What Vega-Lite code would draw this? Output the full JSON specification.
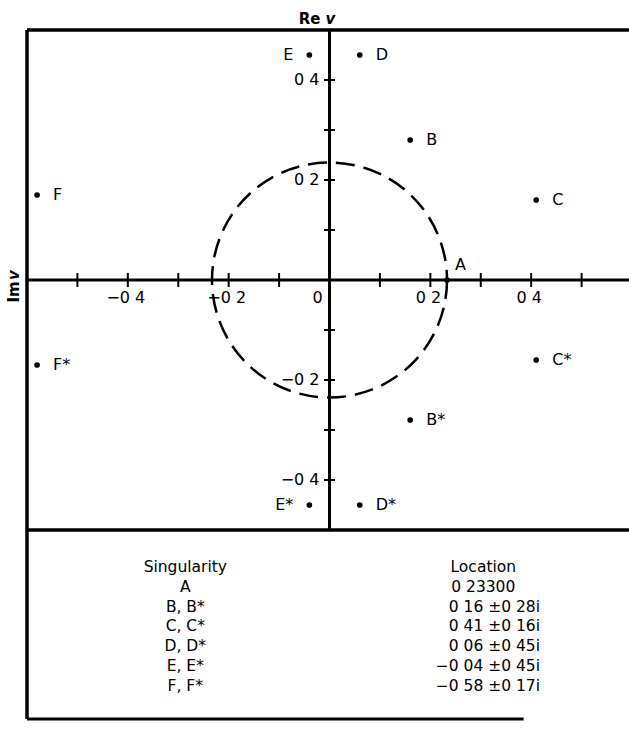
{
  "$schema": "https://vega.github.io/schema/vega-lite/v6.json",
  "width": 602,
  "height": 689,
  "autosize": {"type": "none"},
  "padding": {"left": 27, "top": 30, "right": 0, "bottom": 10},
  "background": "white",
  "config": {
    "view": {"stroke": null},
    "axis": {"disable": true},
    "text": {"font": "DejaVu Sans", "fontSize": 16, "color": "black"}
  },
  "datasets": {
    "singularities": [
      {"label": "A", "re": 0.233, "im": 0},
      {"label": "B", "re": 0.16, "im": 0.28},
      {"label": "B*", "re": 0.16, "im": -0.28},
      {"label": "C", "re": 0.41, "im": 0.16},
      {"label": "C*", "re": 0.41, "im": -0.16},
      {"label": "D", "re": 0.06, "im": 0.45},
      {"label": "D*", "re": 0.06, "im": -0.45},
      {"label": "E", "re": -0.04, "im": 0.45},
      {"label": "E*", "re": -0.04, "im": -0.45},
      {"label": "F", "re": -0.58, "im": 0.17},
      {"label": "F*", "re": -0.58, "im": -0.17}
    ],
    "hticks": [
      {"v": -0.5}, {"v": -0.4}, {"v": -0.3}, {"v": -0.2}, {"v": -0.1},
      {"v": 0.1}, {"v": 0.2}, {"v": 0.3}, {"v": 0.4}, {"v": 0.5}
    ],
    "vticks": [
      {"v": -0.4}, {"v": -0.3}, {"v": -0.2}, {"v": -0.1},
      {"v": 0.1}, {"v": 0.2}, {"v": 0.3}, {"v": 0.4}
    ],
    "hlabels": [
      {"v": -0.4, "t": "−0 4"}, {"v": -0.2, "t": "−0 2"},
      {"v": 0.2, "t": "0 2"}, {"v": 0.4, "t": "0 4"}
    ],
    "vlabels": [
      {"v": 0.4, "t": "0 4"}, {"v": 0.2, "t": "0 2"},
      {"v": -0.2, "t": "−0 2"}, {"v": -0.4, "t": "−0 4"}
    ],
    "table": [
      {"row": 0, "sing": "Singularity", "loc": "Location"},
      {"row": 1, "sing": "A", "loc": "0 23300"},
      {"row": 2, "sing": "B, B*", "loc": "0 16 ±0 28i"},
      {"row": 3, "sing": "C, C*", "loc": "0 41 ±0 16i"},
      {"row": 4, "sing": "D, D*", "loc": "0 06 ±0 45i"},
      {"row": 5, "sing": "E, E*", "loc": "−0 04 ±0 45i"},
      {"row": 6, "sing": "F, F*", "loc": "−0 58 ±0 17i"}
    ]
  },
  "resolve": {"scale": {"y": "independent"}},
  "layer": [
    {
      "layer": [
        {
          "data": {"values": [{}]},
          "mark": {"type": "rule", "color": "black", "strokeWidth": 3.5},
          "encoding": {
            "x": {"datum": -0.6, "type": "quantitative", "scale": {"domain": [-0.6, 0.594], "nice": false, "zero": false}},
            "x2": {"datum": 0.594},
            "y": {"datum": 0.5, "type": "quantitative", "scale": {"domain": [-0.878, 0.5], "nice": false, "zero": false}}
          }
        },
        {
          "data": {"values": [{}]},
          "mark": {"type": "rule", "color": "black", "strokeWidth": 3.5},
          "encoding": {
            "x": {"datum": -0.6, "type": "quantitative"},
            "y": {"datum": 0.5, "type": "quantitative"},
            "y2": {"datum": -0.878}
          }
        },
        {
          "data": {"values": [{}]},
          "mark": {"type": "rule", "color": "black", "strokeWidth": 3.5},
          "encoding": {
            "x": {"datum": -0.6, "type": "quantitative"},
            "x2": {"datum": 0.594},
            "y": {"datum": -0.5, "type": "quantitative"}
          }
        },
        {
          "data": {"values": [{}]},
          "mark": {"type": "rule", "color": "black", "strokeWidth": 3},
          "encoding": {
            "x": {"datum": -0.6, "type": "quantitative"},
            "x2": {"datum": 0.385},
            "y": {"datum": -0.878, "type": "quantitative"}
          }
        },
        {
          "data": {"values": [{}]},
          "mark": {"type": "rule", "color": "black", "strokeWidth": 3},
          "encoding": {
            "x": {"datum": -0.6, "type": "quantitative"},
            "x2": {"datum": 0.594},
            "y": {"datum": 0, "type": "quantitative"}
          }
        },
        {
          "data": {"values": [{}]},
          "mark": {"type": "rule", "color": "black", "strokeWidth": 3},
          "encoding": {
            "x": {"datum": 0, "type": "quantitative"},
            "y": {"datum": 0.5, "type": "quantitative"},
            "y2": {"datum": -0.5}
          }
        },
        {
          "data": {"name": "hticks"},
          "mark": {"type": "tick", "orient": "vertical", "color": "black", "size": 14, "thickness": 2, "opacity": 1},
          "encoding": {
            "x": {"field": "v", "type": "quantitative"},
            "y": {"datum": 0, "type": "quantitative"}
          }
        },
        {
          "data": {"name": "vticks"},
          "mark": {"type": "tick", "orient": "horizontal", "color": "black", "size": 11, "thickness": 2, "opacity": 1},
          "encoding": {
            "x": {"datum": 0, "type": "quantitative"},
            "y": {"field": "v", "type": "quantitative"}
          }
        },
        {
          "data": {"name": "hlabels"},
          "mark": {"type": "text", "align": "center", "baseline": "middle", "dy": 18, "dx": -2},
          "encoding": {
            "x": {"field": "v", "type": "quantitative"},
            "y": {"datum": 0, "type": "quantitative"},
            "text": {"field": "t"}
          }
        },
        {
          "data": {"values": [{}]},
          "mark": {"type": "text", "text": "0", "align": "center", "baseline": "middle", "dx": -12, "dy": 18},
          "encoding": {
            "x": {"datum": 0, "type": "quantitative"},
            "y": {"datum": 0, "type": "quantitative"}
          }
        },
        {
          "data": {"name": "vlabels"},
          "mark": {"type": "text", "align": "right", "baseline": "middle", "dx": -10},
          "encoding": {
            "x": {"datum": 0, "type": "quantitative"},
            "y": {"field": "v", "type": "quantitative"},
            "text": {"field": "t"}
          }
        },
        {
          "data": {"values": [{}]},
          "mark": {"type": "point", "shape": "circle", "filled": false, "size": 55225, "stroke": "black", "strokeWidth": 2.5, "strokeDash": [19, 9], "opacity": 1},
          "encoding": {
            "x": {"datum": 0, "type": "quantitative"},
            "y": {"datum": 0, "type": "quantitative"}
          }
        },
        {
          "data": {"name": "singularities"},
          "mark": {"type": "point", "shape": "circle", "filled": true, "size": 32, "color": "black", "opacity": 1},
          "encoding": {
            "x": {"field": "re", "type": "quantitative"},
            "y": {"field": "im", "type": "quantitative"}
          }
        },
        {
          "data": {"name": "singularities"},
          "transform": [{"filter": "datum.label !== 'A' && datum.label[0] !== 'E'"}],
          "mark": {"type": "text", "align": "left", "baseline": "middle", "dx": 16},
          "encoding": {
            "x": {"field": "re", "type": "quantitative"},
            "y": {"field": "im", "type": "quantitative"},
            "text": {"field": "label"}
          }
        },
        {
          "data": {"name": "singularities"},
          "transform": [{"filter": "datum.label[0] === 'E'"}],
          "mark": {"type": "text", "align": "right", "baseline": "middle", "dx": -16},
          "encoding": {
            "x": {"field": "re", "type": "quantitative"},
            "y": {"field": "im", "type": "quantitative"},
            "text": {"field": "label"}
          }
        },
        {
          "data": {"name": "singularities"},
          "transform": [{"filter": "datum.label === 'A'"}],
          "mark": {"type": "text", "align": "left", "baseline": "middle", "dx": 8, "dy": -15},
          "encoding": {
            "x": {"field": "re", "type": "quantitative"},
            "y": {"field": "im", "type": "quantitative"},
            "text": {"field": "label"}
          }
        },
        {
          "data": {"values": [{}]},
          "mark": {"type": "text", "text": "Re", "fontWeight": "bold", "fontSize": 15, "align": "right", "baseline": "middle", "dx": -9, "dy": -11},
          "encoding": {
            "x": {"datum": 0, "type": "quantitative"},
            "y": {"datum": 0.5, "type": "quantitative"}
          }
        },
        {
          "data": {"values": [{}]},
          "mark": {"type": "text", "text": "v", "fontWeight": "bold", "fontStyle": "italic", "fontSize": 15, "align": "center", "baseline": "middle", "dx": 1, "dy": -11},
          "encoding": {
            "x": {"datum": 0, "type": "quantitative"},
            "y": {"datum": 0.5, "type": "quantitative"}
          }
        },
        {
          "data": {"values": [{}]},
          "mark": {"type": "text", "text": "Im", "angle": 270, "fontWeight": "bold", "fontSize": 15, "align": "center", "baseline": "middle", "dx": -12, "dy": -13},
          "encoding": {
            "x": {"datum": -0.6, "type": "quantitative"},
            "y": {"datum": 0, "type": "quantitative"}
          }
        },
        {
          "data": {"values": [{}]},
          "mark": {"type": "text", "text": "v", "angle": 270, "fontWeight": "bold", "fontStyle": "italic", "fontSize": 15, "align": "center", "baseline": "middle", "dx": 5, "dy": -13},
          "encoding": {
            "x": {"datum": -0.6, "type": "quantitative"},
            "y": {"datum": 0, "type": "quantitative"}
          }
        }
      ]
    },
    {
      "data": {"name": "table"},
      "layer": [
        {
          "mark": {"type": "text", "align": "center", "baseline": "middle", "fontSize": 15.5},
          "encoding": {
            "x": {"datum": -0.286, "type": "quantitative"},
            "y": {"field": "row", "type": "quantitative", "scale": {"domain": [-27.12, 7.68], "reverse": true, "nice": false, "zero": false}},
            "text": {"field": "sing"}
          }
        },
        {
          "transform": [{"filter": "datum.row <= 1"}],
          "mark": {"type": "text", "align": "center", "baseline": "middle", "fontSize": 15.5},
          "encoding": {
            "x": {"datum": 0.305, "type": "quantitative"},
            "y": {"field": "row", "type": "quantitative"},
            "text": {"field": "loc"}
          }
        },
        {
          "transform": [{"filter": "datum.row >= 2"}],
          "mark": {"type": "text", "align": "right", "baseline": "middle", "fontSize": 15.5},
          "encoding": {
            "x": {"datum": 0.4175, "type": "quantitative"},
            "y": {"field": "row", "type": "quantitative"},
            "text": {"field": "loc"}
          }
        }
      ]
    }
  ]
}
